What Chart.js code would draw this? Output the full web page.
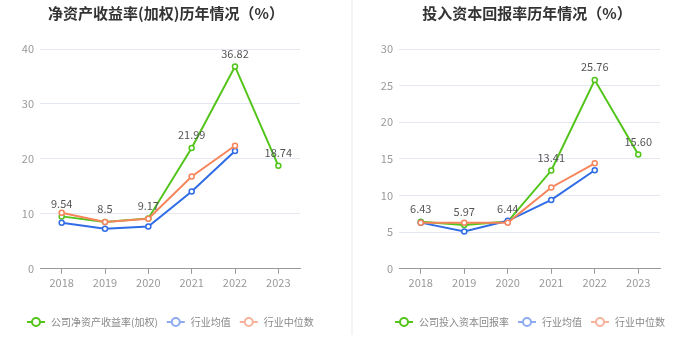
<!DOCTYPE html>
<html>
<head>
<meta charset="utf-8">
<script src="https://cdn.jsdelivr.net/npm/chart.js@4.4.0/dist/chart.umd.min.js"></script>
<style>
    html, body { margin: 0; padding: 0; background: #fff; }
    .wrap { display: flex; width: 700px; height: 360px; position: relative; }
    .panel { width: 350px; height: 360px; position: relative; }
    .divider { position: absolute; left: 351px; top: 0; width: 2px; height: 335px; background: #f4f4f4; }
</style>
</head>
<body>
<div class="wrap">
    <div class="panel"><canvas id="roe-chart" width="350" height="360"></canvas></div>
    <div class="divider"></div>
    <div class="panel"><canvas id="roic-chart" width="350" height="360"></canvas></div>
</div>
<script>
const years = ["2018", "2019", "2020", "2021", "2022", "2023"];

const roeCompany = [9.54, 8.5, 9.17, 21.99, 36.82, 18.74];
const roeCompanyLabels = ["9.54", "8.5", "9.17", "21.99", "36.82", "18.74"];
const roeAverage = [8.4, 7.3, 7.7, 14.05, 21.45, null];
const roeMedian = [10.2, 8.5, 9.1, 16.8, 22.4, null];

const roicCompany = [6.43, 5.97, 6.44, 13.41, 25.76, 15.60];
const roicCompanyLabels = ["6.43", "5.97", "6.44", "13.41", "25.76", "15.60"];
const roicAverage = [6.3, 5.1, 6.55, 9.4, 13.45, null];
const roicMedian = [6.3, 6.3, 6.3, 11.1, 14.4, null];

const GREEN = "#52c41a";
const BLUE = "#2f6ce5";
const ORANGE = "#f7855c";
const LEGEND_COLORS = [GREEN, "#8eaaf0", "#f8b29a"];
const FONT = "'Noto Sans CJK SC', sans-serif";

// values above the company line
const valueLabels = {
    id: "valueLabels",
    afterDatasetsDraw(chart, args, opts) {
        const ctx = chart.ctx;
        const meta = chart.getDatasetMeta(0);
        ctx.save();
        ctx.font = "11px " + FONT;
        ctx.fillStyle = "#555";
        ctx.textAlign = "center";
        ctx.textBaseline = "middle";
        meta.data.forEach((pt, i) => {
            ctx.fillText(opts.labels[i], pt.x, pt.y - 13);
        });
        ctx.restore();
    }
};

// title and the line+circle legend
const panelDecor = {
    id: "panelDecor",
    afterDraw(chart, args, opts) {
        const ctx = chart.ctx;
        ctx.save();
        ctx.font = "bold 15px " + FONT;
        ctx.fillStyle = "#333";
        ctx.textAlign = "center";
        ctx.textBaseline = "middle";
        ctx.fillText(opts.title, opts.titleX, 13);

        ctx.font = "10px " + FONT;
        ctx.textAlign = "left";
        let x = opts.legendX;
        const y = 322;
        chart.data.datasets.forEach((ds, i) => {
            const c = LEGEND_COLORS[i];
            ctx.strokeStyle = c;
            ctx.lineWidth = 2;
            ctx.beginPath();
            ctx.moveTo(x, y);
            ctx.lineTo(x + 18, y);
            ctx.stroke();
            ctx.fillStyle = "#fff";
            ctx.beginPath();
            ctx.arc(x + 9, y, 4, 0, Math.PI * 2);
            ctx.fill();
            ctx.stroke();
            ctx.fillStyle = "#888";
            ctx.fillText(ds.label, x + 24, y);
            x += 24 + ctx.measureText(ds.label).width + 9;
        });
        ctx.restore();
    }
};

function makeChart(id, title, names, company, average, median, labels, max, step, padLeft, padRight, titleX, legendX) {
    const ctx = document.getElementById(id).getContext("2d");
    const series = [company, average, median];
    const colors = [GREEN, BLUE, ORANGE];
    return new Chart(ctx, {
        type: "line",
        data: {
            labels: years,
            datasets: series.map((d, i) => ({
                label: names[i],
                data: d,
                borderColor: colors[i],
                backgroundColor: "#fff",
                borderWidth: 2,
                pointRadius: 2.5,
                pointBorderWidth: 1.5,
                pointBackgroundColor: "#fff",
                pointBorderColor: colors[i],
                order: 3 - i,
            }))
        },
        options: {
            responsive: false,
            animation: false,
            layout: {
                padding: { top: 49, bottom: 69, left: padLeft, right: padRight }
            },
            scales: {
                x: {
                    offset: true,
                    grid: {
                        offset: false,
                        drawOnChartArea: false,
                        tickLength: 5,
                        color: "#999",
                    },
                    border: { color: "#999" },
                    ticks: {
                        color: "#999",
                        font: { size: 11, family: FONT },
                        padding: 2,
                    }
                },
                y: {
                    min: 0,
                    max: max,
                    afterFit: (scale) => { scale.width = 40; },
                    border: { display: false },
                    grid: { color: "#e4e8f2", drawTicks: false },
                    ticks: {
                        stepSize: step,
                        color: "#999",
                        padding: 6,
                        font: { size: 11, family: FONT },
                    }
                }
            },
            plugins: {
                title: { display: false },
                legend: { display: false },
                tooltip: { enabled: false },
                valueLabels: { labels: labels },
                panelDecor: { title: title, titleX: titleX, legendX: legendX },
            },
        },
        plugins: [valueLabels, panelDecor],
    });
}

makeChart("roe-chart", "净资产收益率(加权)历年情况（%）",
    ["公司净资产收益率(加权)", "行业均值", "行业中位数"],
    roeCompany, roeAverage, roeMedian, roeCompanyLabels, 40, 10, 0, 50, 166, 27);

makeChart("roic-chart", "投入资本回报率历年情况（%）",
    ["公司投入资本回报率", "行业均值", "行业中位数"],
    roicCompany, roicAverage, roicMedian, roicCompanyLabels, 30, 5, 9, 40, 177, 45);
</script>
</body>
</html>
